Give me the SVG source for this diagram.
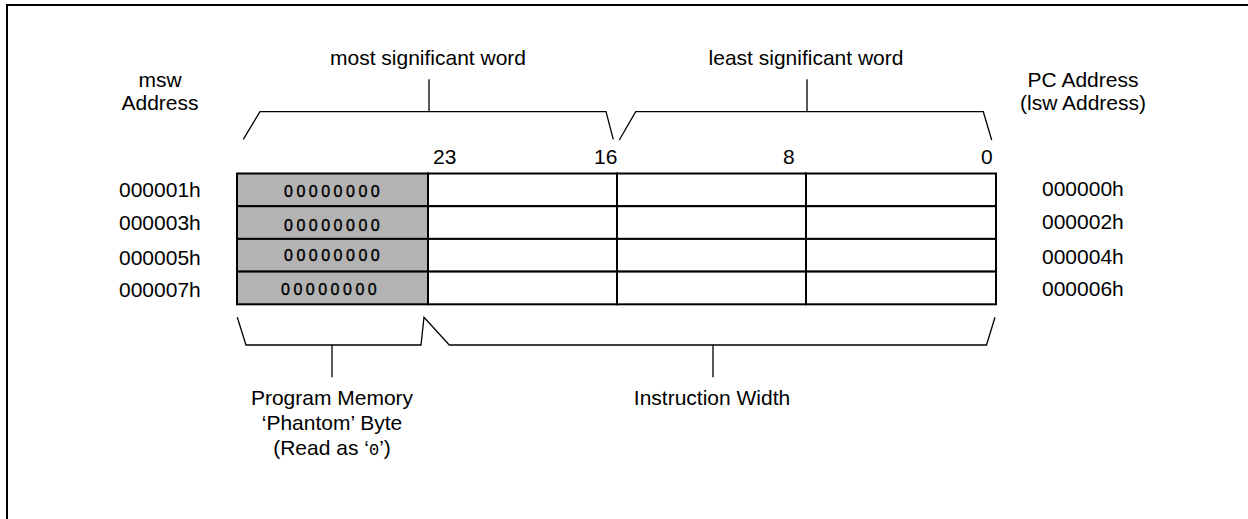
<svg xmlns="http://www.w3.org/2000/svg" width="1248" height="519" viewBox="0 0 1248 519">
<style>
.t{font-family:"Liberation Sans",Arial,sans-serif;font-size:21px;fill:#000}
.c{text-anchor:middle}
.z{font-family:"Liberation Sans",Arial,sans-serif;font-size:16px;letter-spacing:3.5px;fill:#000;stroke:#000;stroke-width:0.4}
.ln{fill:none;stroke:#000;stroke-width:1.3}
.cell{fill:#fff;stroke:#000;stroke-width:2}
.ph{fill:#b3b3b3;stroke:#000;stroke-width:2}
</style>
<rect width="1248" height="519" fill="#fff"/>
<path d="M7,519 V5 H1248" fill="none" stroke="#000" stroke-width="2"/>

<g id="headers">
<text class="t c" x="160" y="87">msw</text>
<text class="t c" x="160" y="110">Address</text>
<text class="t c" x="428" y="65">most significant word</text>
<text class="t c" x="806" y="65">least significant word</text>
<text class="t c" x="1083" y="87">PC Address</text>
<text class="t c" x="1083" y="110">(lsw Address)</text>
</g>

<g id="bits">
<text class="t" x="433" y="164">23</text>
<text class="t" x="594" y="164">16</text>
<text class="t" x="783" y="164">8</text>
<text class="t" x="981" y="164">0</text>
</g>

<g id="memory">
<rect class="ph" x="237" y="173.5" width="191" height="32.7"/>
<rect class="ph" x="237" y="206.2" width="191" height="32.7"/>
<rect class="ph" x="237" y="238.9" width="191" height="32.7"/>
<rect class="ph" x="237" y="271.6" width="191" height="32.7"/>
<rect class="cell" x="428" y="173.5" width="189" height="32.7"/>
<rect class="cell" x="428" y="206.2" width="189" height="32.7"/>
<rect class="cell" x="428" y="238.9" width="189" height="32.7"/>
<rect class="cell" x="428" y="271.6" width="189" height="32.7"/>
<rect class="cell" x="617" y="173.5" width="189" height="32.7"/>
<rect class="cell" x="617" y="206.2" width="189" height="32.7"/>
<rect class="cell" x="617" y="238.9" width="189" height="32.7"/>
<rect class="cell" x="617" y="271.6" width="189" height="32.7"/>
<rect class="cell" x="806" y="173.5" width="190" height="32.7"/>
<rect class="cell" x="806" y="206.2" width="190" height="32.7"/>
<rect class="cell" x="806" y="238.9" width="190" height="32.7"/>
<rect class="cell" x="806" y="271.6" width="190" height="32.7"/>
<text class="z" x="284" y="197">00000000</text>
<text class="z" x="284" y="231">00000000</text>
<text class="z" x="284" y="260.5">00000000</text>
<text class="z" x="281" y="295">00000000</text>
</g>

<g id="msw-addresses">
<text class="t" x="119" y="197">000001h</text>
<text class="t" x="119" y="230">000003h</text>
<text class="t" x="119" y="265">000005h</text>
<text class="t" x="119" y="297">000007h</text>
</g>

<g id="lsw-addresses">
<text class="t" x="1042" y="196">000000h</text>
<text class="t" x="1042" y="229">000002h</text>
<text class="t" x="1042" y="264">000004h</text>
<text class="t" x="1042" y="296">000006h</text>
</g>

<g id="connectors">
<path class="ln" d="M243.3,139.3 L260,111.7 H606 L613.3,139.3 M429,79.3 V111.7"/>
<path class="ln" d="M619.3,140 L635.7,111.7 H983.3 L991.7,140 M807,79.3 V111.7"/>
<path class="ln" d="M237.3,317.3 L246,345 H421 L424,317.3 L449.3,345 H986.5 L995,317.3 M332,345 V377.3 M713,345 V377.3"/>
</g>

<g id="labels">
<text class="t c" x="332" y="405">Program Memory</text>
<text class="t c" x="332" y="430">‘Phantom’ Byte</text>
<text class="t c" x="332" y="455">(Read as ‘<tspan style="font-family:'Liberation Mono',monospace;font-size:17px">0</tspan>’)</text>
<text class="t c" x="712" y="405">Instruction Width</text>
</g>
</svg>
